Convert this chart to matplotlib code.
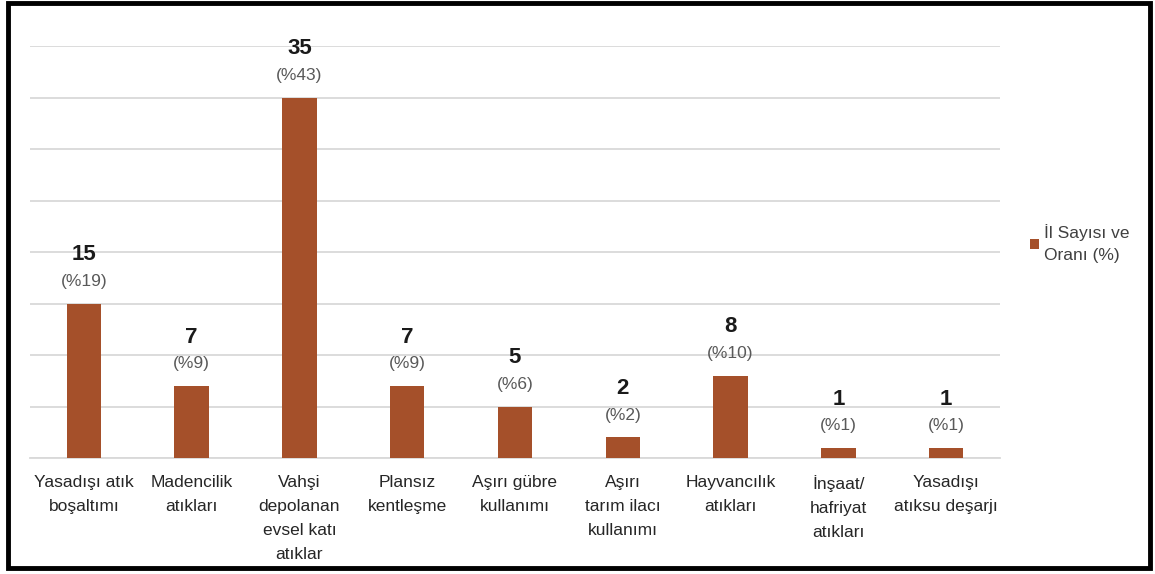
import matplotlib.pyplot as plt
from matplotlib.patches import Rectangle

# Kirlilik kaynakları: il sayısı ve oranı
categories = ['Yasadışı atık\nboşaltımı', 'Madencilik\natıkları',
              'Vahşi\ndepolanan\nevsel katı\natıklar', 'Plansız\nkentleşme',
              'Aşırı gübre\nkullanımı', 'Aşırı\ntarım ilacı\nkullanımı',
              'Hayvancılık\natıkları', 'İnşaat/\nhafriyat\natıkları',
              'Yasadışı\natıksu deşarjı']
counts = [15, 7, 35, 7, 5, 2, 8, 1, 1]
percents = [19, 9, 43, 9, 6, 2, 10, 1, 1]

plt.rcParams['font.family'] = ['Liberation Sans', 'DejaVu Sans']
bar_color = '#A5502A'

fig = plt.figure(figsize=(11.55, 5.74), dpi=100)
ax = fig.add_axes([30 / 1155, 1 - 458 / 574, 970 / 1155, 412 / 574])

x = range(len(categories))
bars = ax.bar(x, counts, width=0.32, color=bar_color, label='İl Sayısı ve\nOranı (%)', zorder=3)

ax.set_xlim(-0.5, len(categories) - 0.5)
ax.set_ylim(0, 40)
ax.set_yticks(range(0, 41, 5))
ax.yaxis.grid(True, color='#d9d9d9', linewidth=1.3, zorder=0)
ax.tick_params(axis='y', left=False, labelleft=False)
ax.tick_params(axis='x', length=0, pad=12, labelsize=12.5, labelcolor='#262626')
ax.set_xticks(list(x))
ax.set_xticklabels(categories, linespacing=1.75)
for side in ['top', 'right', 'left']:
    ax.spines[side].set_visible(False)
ax.spines['bottom'].set_color('#d9d9d9')
ax.spines['bottom'].set_linewidth(1.3)

# Değer etiketleri: sayı ve yüzde
for b, c, p in zip(bars, counts, percents):
    cx = b.get_x() + b.get_width() / 2
    ax.annotate(f'(%{p})', (cx, c), xytext=(0, 16), textcoords='offset points',
                ha='center', va='center', fontsize=12.5, color='#595959')
    ax.annotate(str(c), (cx, c), xytext=(0, 35), textcoords='offset points',
                ha='center', va='center', fontsize=16, fontweight='bold', color='#1a1a1a')

leg = ax.legend(loc='center left', bbox_to_anchor=(1.015, 0.52), frameon=False,
                fontsize=12.5, handlelength=0.5, handleheight=0.5, handletextpad=0.3,
                labelcolor='#404040', labelspacing=0.2)
for t in leg.get_texts():
    t.set_linespacing(1.6)

# Dış çerçeve
fig.patches.append(Rectangle((8 / 1155, 6 / 574), 1142 / 1155, 565 / 574,
                             transform=fig.transFigure, fill=False,
                             edgecolor='black', linewidth=3.5))

fig.savefig('out.png', dpi=100)
